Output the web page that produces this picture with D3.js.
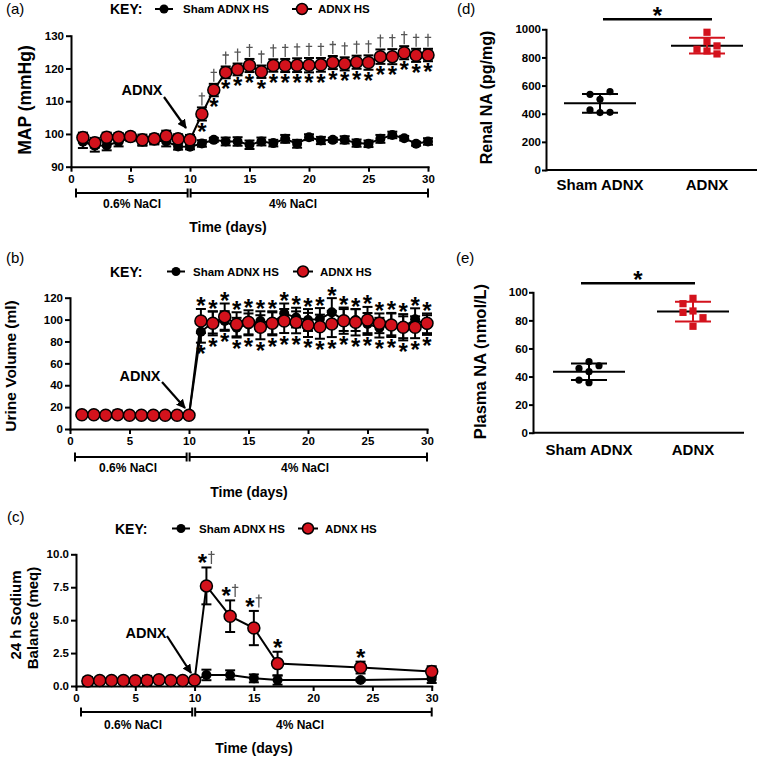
<!DOCTYPE html>
<html><head><meta charset="utf-8">
<script src="https://cdn.jsdelivr.net/npm/d3@7"></script>
<style>
body{margin:0;background:#fff}
svg{display:block}
text{font-family:"Liberation Sans",Arial,Helvetica,sans-serif;fill:#000}
</style>
</head><body>
<svg id="fig" width="760" height="761"></svg>
<script>
// ---------------- DATA ----------------
const days = [1,2,3,4,5,6,7,8,9,10,11,12,13,14,15,16,17,18,19,20,21,22,23,24,25,26,27,28,29,30];
const xTicks = [0,5,10,15,20,25,30];

// (a) MAP (mmHg)
const mapSham    = [97.6,96.4,96.5,97.6,98.8,97.7,98.0,97.7,96.2,96.1,97.1,98.2,97.7,97.7,96.7,97.7,97.2,98.5,97.0,99.0,98.0,98.2,98.2,97.2,97.0,98.5,99.7,98.7,97.0,97.7];
const mapShamErr = [1.9,1.8,1.5,1.4,1.0,1.3,1.2,1.5,1.0,0.8,1.0,0.6,1.2,1.3,1.3,1.2,1.0,1.2,1.2,0.9,1.1,0.6,1.1,1.1,1.0,1.2,1.0,0.7,0.6,1.0];
const mapAdnx    = [98.9,97.3,99.0,99.0,99.2,98.2,98.5,99.4,98.5,98.2,106.1,113.4,118.8,119.7,120.9,119.0,120.9,120.9,121.0,121.0,121.1,121.8,121.4,121.9,121.8,123.6,123.6,124.8,124.0,124.1];
const mapAdnxErr = [1.5,1.5,1.4,1.3,1.2,1.6,1.4,1.6,1.4,1.5,2.0,1.9,1.8,1.8,2.0,1.9,1.9,2.0,2.1,2.2,2.1,2.0,2.0,2.0,2.2,2.2,2.3,2.0,2.0,1.9];
const mapTicks = [90,100,110,120,130];
const mapStarDays = [11,12,13,14,15,16,17,18,19,20,21,22,23,24,25,26,27,28,29,30];
const mapDaggerDays = [11,12,13,14,15,16,17,18,19,20,21,22,23,24,25,26,27,28,29,30];

// (b) Urine volume (ml)
const uvSham    = [12.5,12.5,12.5,13.5,12.5,12.5,12.5,12.5,12.5,12.5,88.9,97.3,98.7,92.6,95.6,98.6,96.6,105.7,101.8,99.6,100.5,106.6,99.6,99.6,96.0,92.6,95.6,93.0,100.3,95.0];
const uvShamErr = [1,1,1,3.5,1,1,1,1,1,1,10,10,9,9,10,9,10,9,9,10,10,13,10,10,10,9,10,10,10,9];
const uvAdnx    = [13.0,13.0,12.5,13.0,12.5,12.5,12.5,12.5,12.5,12.5,98.7,96.6,102.7,95.7,97.5,93.0,96.6,98.7,97.5,95.1,93.5,96.0,99.0,97.5,99.6,96.6,95.1,93.0,93.0,96.6];
const uvAdnxErr = [1,1,1,1,1,1,1,1,1,1,11,11,12,11,11,11,11,11,10,11,11,12,12,12,12,9,11,12,10,9];
const uvTicks = [0,20,40,60,80,100,120];
const uvStarDays = [11,12,13,14,15,16,17,18,19,20,21,22,23,24,25,26,27,28,29,30];

// (c) 24 h sodium balance (meq)
const naDays    = [1,2,3,4,5,6,7,8,9,10,11,13,15,17,24,30];
const naSham    = [0.35,0.40,0.40,0.40,0.40,0.40,0.45,0.40,0.40,0.40,0.84,0.84,0.58,0.45,0.46,0.53];
const naShamErr = [0.30,0.20,0.20,0.20,0.20,0.30,0.20,0.20,0.20,0.20,0.40,0.35,0.30,0.35,0.10,0.30];
const naAdnx    = [0.38,0.42,0.42,0.42,0.40,0.42,0.48,0.42,0.42,0.45,7.60,5.30,4.40,1.70,1.40,1.10];
const naAdnxErr = [0.30,0.15,0.15,0.15,0.15,0.35,0.20,0.15,0.15,0.20,1.40,1.20,1.30,0.90,0.45,0.40];
const naTicks = [0,2.5,5,7.5,10];
const naStarDays = [11,13,15,17,24];
const naDaggerDays = [11,13,15];

// (d),(e) scatter groups
const groups = ["Sham ADNX","ADNX"];
const renalSham  = [502,538,557,408,427,410];
const renalAdnx  = [979,912,858,882,846,825];
const renalTicks = [0,200,400,600,800,1000];
const plasmaSham = [50.6,45.8,47.7,43.5,35.6,37.5];
const plasmaAdnx = [95.7,91.9,86.7,85.7,81.9,75.8];
const plasmaTicks = [0,20,40,60,80,100];

const legendLabels = ["Sham ADNX HS","ADNX HS"];

// ---------------- DRAWING ----------------
const RED = "#d3121c";
const svg = d3.select("#fig");
svg.append("defs").append("marker")
  .attr("id","arr").attr("viewBox","0 0 10 10").attr("refX",9).attr("refY",5)
  .attr("markerWidth",4.2).attr("markerHeight",4.2).attr("orient","auto")
  .append("path").attr("d","M0,0L10,5L0,10z").attr("fill","#000");

function styleAxis(g){
  g.select(".domain").attr("stroke","#000").attr("stroke-width",2).attr("stroke-linecap","square");
  g.selectAll(".tick line").attr("stroke","#000").attr("stroke-width",2);
  g.selectAll(".tick text").style("font-size","11.5px").style("font-weight","bold").attr("fill","#000");
}
function txt(g,x,y,s,size,opt={}){
  const t=g.append("text").attr("x",x).attr("y",y).text(s)
    .style("font-size",size+"px").style("font-weight",opt.weight||"bold")
    .attr("text-anchor",opt.anchor||"middle");
  if(opt.fill) t.attr("fill",opt.fill);
  if(opt.rot!=null) t.attr("transform",`rotate(${opt.rot},${x},${y})`);
  return t;
}
function star(g,cx,cy){ txt(g,cx,cy+12.5,"*",24); }
function dagger(g,cx,cy){
  g.append("path")
    .attr("d",`M${cx},${cy-6.5}V${cy+6.5}M${cx-3.2},${cy-3}H${cx+3.2}`)
    .attr("stroke","#555").attr("stroke-width",1.3).attr("fill","none");
}

function lineChart(cfg){
  const g = svg.append("g");
  const {x,y} = cfg;
  const ax = g.append("g").attr("transform",`translate(0,${y.range()[0]})`)
    .call(d3.axisBottom(x).tickValues(xTicks).tickSize(5).tickSizeOuter(0).tickPadding(3));
  styleAxis(ax);
  const ay = g.append("g").attr("transform",`translate(${x.range()[0]},0)`)
    .call(d3.axisLeft(y).tickValues(cfg.yTicks).tickSize(5).tickSizeOuter(0).tickPadding(2).tickFormat(cfg.yFmt||d3.format("d")));
  styleAxis(ay);

  function series(xs,vals,errs,fill,r){
    const pts = xs.map((d,i)=>({d, v:vals[i], e:errs[i]}));
    const sg = g.append("g");
    sg.append("path").datum(pts)
      .attr("d",d3.line().x(p=>x(p.d)).y(p=>y(p.v)))
      .attr("fill","none").attr("stroke","#000").attr("stroke-width",2);
    const eb = sg.append("g").selectAll("g").data(pts).join("g").attr("stroke","#000").attr("stroke-width",2);
    eb.append("line").attr("x1",p=>x(p.d)).attr("x2",p=>x(p.d)).attr("y1",p=>y(p.v-p.e)).attr("y2",p=>y(p.v+p.e));
    eb.append("line").attr("x1",p=>x(p.d)-5).attr("x2",p=>x(p.d)+5).attr("y1",p=>y(p.v+p.e)).attr("y2",p=>y(p.v+p.e));
    eb.append("line").attr("x1",p=>x(p.d)-5).attr("x2",p=>x(p.d)+5).attr("y1",p=>y(p.v-p.e)).attr("y2",p=>y(p.v-p.e));
    sg.append("g").selectAll("circle").data(pts).join("circle")
      .attr("cx",p=>x(p.d)).attr("cy",p=>y(p.v)).attr("r",r)
      .attr("fill",fill).attr("stroke","#000").attr("stroke-width",fill==="#000"?0:1.5);
  }
  series(cfg.xs,cfg.sham,cfg.shamErr,"#000",5);
  series(cfg.xs,cfg.adnx,cfg.adnxErr,RED,6);

  // legend
  const L = cfg.legend;
  txt(g,L.kx,L.y+5,"KEY:",14,{anchor:"start"});
  g.append("line").attr("x1",L.s1-9).attr("x2",L.s1+9).attr("y1",L.y).attr("y2",L.y).attr("stroke","#000").attr("stroke-width",2);
  g.append("circle").attr("cx",L.s1).attr("cy",L.y).attr("r",4.5).attr("fill","#000");
  txt(g,L.st,L.y+4.3,legendLabels[0],11.5,{anchor:"start"});
  g.append("line").attr("x1",L.s2-10).attr("x2",L.s2+10).attr("y1",L.y).attr("y2",L.y).attr("stroke","#000").attr("stroke-width",2);
  g.append("circle").attr("cx",L.s2).attr("cy",L.y).attr("r",5.5).attr("fill",RED).attr("stroke","#000").attr("stroke-width",1.5);
  txt(g,L.rt,L.y+4.3,legendLabels[1],11.5,{anchor:"start"});

  // panel label
  txt(g,cfg.pl[0],cfg.pl[1],cfg.panel,15,{anchor:"start",weight:"normal"});

  // y title
  cfg.ytitle.forEach(t=>txt(g,t[0],t[1],t[2],t[3],{rot:-90}));

  // x title
  txt(g,cfg.xt[0],cfg.xt[1],"Time (days)",14);

  // NaCl bracket
  const by = cfg.br.y;
  [[0.42,9.8],[10.05,30]].forEach(s=>{
    g.append("line").attr("x1",x(s[0])).attr("x2",x(s[1])).attr("y1",by).attr("y2",by).attr("stroke","#000").attr("stroke-width",2);
    s.forEach(v=>g.append("line").attr("x1",x(v)).attr("x2",x(v)).attr("y1",by-4.5).attr("y2",by+4.5).attr("stroke","#000").attr("stroke-width",2));
  });
  txt(g,cfg.br.l1,cfg.br.ty,"0.6% NaCl",12);
  txt(g,cfg.br.l2,cfg.br.ty,"4% NaCl",12);

  // ADNX arrow
  const A = cfg.arrow;
  txt(g,A.tx,A.ty,"ADNX",14.5);
  g.append("line").attr("x1",A.x1).attr("y1",A.y1).attr("x2",A.x2).attr("y2",A.y2)
    .attr("stroke","#000").attr("stroke-width",2.2).attr("marker-end","url(#arr)");
  return g;
}

// (a)
const xA = d3.scaleLinear([0,30],[71,428]);
const yA = d3.scaleLinear([90,130],[166.7,35.7]);
const gA = lineChart({x:xA,y:yA,yTicks:mapTicks,xs:days,sham:mapSham,shamErr:mapShamErr,adnx:mapAdnx,adnxErr:mapAdnxErr,
  legend:{kx:110,y:9,s1:164,st:183,s2:302,rt:318},panel:"(a)",pl:[6,14],
  ytitle:[[31,100,"MAP (mmHg)",17.5]],xt:[228,232],
  br:{y:193,ty:208,l1:132,l2:293},
  arrow:{tx:142,ty:95,x1:164,y1:97,x2:186,y2:128}});
mapStarDays.forEach(d=>{const i=days.indexOf(d); star(gA,xA(d),yA(mapAdnx[i]-mapAdnxErr[i])+6.5);});
mapDaggerDays.forEach(d=>{const i=days.indexOf(d); dagger(gA,xA(d),yA(mapAdnx[i]+mapAdnxErr[i])-8.5);});

// (b)
const xB = d3.scaleLinear([0,30],[70,427]);
const yB = d3.scaleLinear([0,120],[429,297.7]);
const gB = lineChart({x:xB,y:yB,yTicks:uvTicks,xs:days,sham:uvSham,shamErr:uvShamErr,adnx:uvAdnx,adnxErr:uvAdnxErr,
  legend:{kx:110,y:271.5,s1:176,st:193,s2:303,rt:320},panel:"(b)",pl:[6,263],
  ytitle:[[15.5,366,"Urine Volume (ml)",15.5]],xt:[249,496.5],
  br:{y:457,ty:471.5,l1:128,l2:305},
  arrow:{tx:140,ty:380.5,x1:162,y1:382,x2:185,y2:408}});
uvStarDays.forEach(d=>{const i=days.indexOf(d);
  const top=Math.max(uvSham[i]+uvShamErr[i],uvAdnx[i]+uvAdnxErr[i]);
  const bot=Math.min(uvSham[i]-uvShamErr[i],uvAdnx[i]-uvAdnxErr[i]);
  star(gB,xB(d),yB(top)-7); star(gB,xB(d),yB(bot)+7);});

// (c)
const xC = d3.scaleLinear([0,30],[76,431.7]);
const yC = d3.scaleLinear([0,10],[686,554.3]);
const gC = lineChart({x:xC,y:yC,yTicks:naTicks,yFmt:d3.format(".1f"),xs:naDays,sham:naSham,shamErr:naShamErr,adnx:naAdnx,adnxErr:naAdnxErr,
  legend:{kx:115,y:528.5,s1:181,st:199,s2:308,rt:325},panel:"(c)",pl:[7,522],
  ytitle:[[20.5,615,"24 h Sodium",15],[37.5,618,"Balance (meq)",15]],xt:[254,753],
  br:{y:712,ty:729,l1:133,l2:300},
  arrow:{tx:146,ty:638,x1:167,y1:636,x2:191,y2:673}});
naStarDays.forEach(d=>{const i=naDays.indexOf(d);
  const cy=yC(naAdnx[i]+naAdnxErr[i])-8.5;
  const dag=naDaggerDays.includes(d);
  star(gC,xC(d)-(dag?4:0),cy);
  if(dag) dagger(gC,xC(d)+5,cy-1.5);});

// scatter panels
function swarm(vals,y,cx){
  const placed=[]; const step=10, minD=8;
  return vals.map(v=>{
    const py=y(v);
    for(const k of [0,-1,1,-2,2]){
      const px=cx+k*step;
      if(placed.every(p=>Math.hypot(p[0]-px,p[1]-py)>=minD)){placed.push([px,py]);return [px,py];}
    }
    placed.push([cx,py]); return [cx,py];
  });
}
function scatter(cfg){
  const g=svg.append("g");
  const {x,y}=cfg;
  const ay=g.append("g").attr("transform",`translate(${cfg.ax0},0)`)
    .call(d3.axisLeft(y).tickValues(cfg.yTicks).tickSize(4).tickSizeOuter(0).tickPadding(1).tickFormat(d3.format("d")));
  styleAxis(ay);
  g.append("line").attr("x1",cfg.ax0).attr("x2",cfg.ax1).attr("y1",y.range()[0]).attr("y2",y.range()[0]).attr("stroke","#000").attr("stroke-width",2);
  groups.forEach((gr,gi)=>{
    txt(g,x(gr),cfg.labY,gr,15);
    const vals=cfg.data[gi]; const col=gi===0?"#000":RED;
    const m=d3.mean(vals), sd=d3.deviation(vals), cx=x(gr);
    g.append("line").attr("x1",cx-36).attr("x2",cx+36).attr("y1",y(m)).attr("y2",y(m)).attr("stroke","#000").attr("stroke-width",2);
    [m+sd,m-sd].forEach(v=>g.append("line").attr("x1",cx-18).attr("x2",cx+18).attr("y1",y(v)).attr("y2",y(v)).attr("stroke",col).attr("stroke-width",2));
    g.append("line").attr("x1",cx).attr("x2",cx).attr("y1",y(m+sd)).attr("y2",y(m-sd)).attr("stroke",col).attr("stroke-width",2);
    const pos=swarm(vals,y,cx);
    if(gi===0) g.selectAll(null).data(pos).join("circle").attr("cx",p=>p[0]).attr("cy",p=>p[1]).attr("r",3.6).attr("fill","#000");
    else g.selectAll(null).data(pos).join("rect").attr("x",p=>p[0]-3.6).attr("y",p=>p[1]-3.6).attr("width",7.2).attr("height",7.2).attr("fill",RED);
  });
  g.append("line").attr("x1",cfg.sig[0]).attr("x2",cfg.sig[1]).attr("y1",cfg.sig[2]).attr("y2",cfg.sig[2]).attr("stroke","#000").attr("stroke-width",2.5);
  star(g,(cfg.sig[0]+cfg.sig[1])/2,cfg.sig[2]-8);
  txt(g,cfg.pl[0],cfg.pl[1],cfg.panel,15,{anchor:"start",weight:"normal"});
  txt(g,cfg.yt[0],cfg.yt[1],cfg.yt[2],cfg.yt[3],{rot:-90});
}
scatter({x:d3.scalePoint(groups,[600,707]),y:d3.scaleLinear([0,1000],[170,29.3]),yTicks:renalTicks,ax0:546,ax1:757,labY:190,
  data:[renalSham,renalAdnx],sig:[603,712,19.3],panel:"(d)",pl:[457,14],yt:[492,97.5,"Renal NA (pg/mg)",16]});
scatter({x:d3.scalePoint(groups,[589,693]),y:d3.scaleLinear([0,100],[432.7,292.3]),yTicks:plasmaTicks,ax0:533,ax1:744,labY:455,
  data:[plasmaSham,plasmaAdnx],sig:[581,695,283.3],panel:"(e)",pl:[456,263],yt:[485.5,361.5,"Plasma NA (nmol/L)",16.5]});
</script>
</body></html>
